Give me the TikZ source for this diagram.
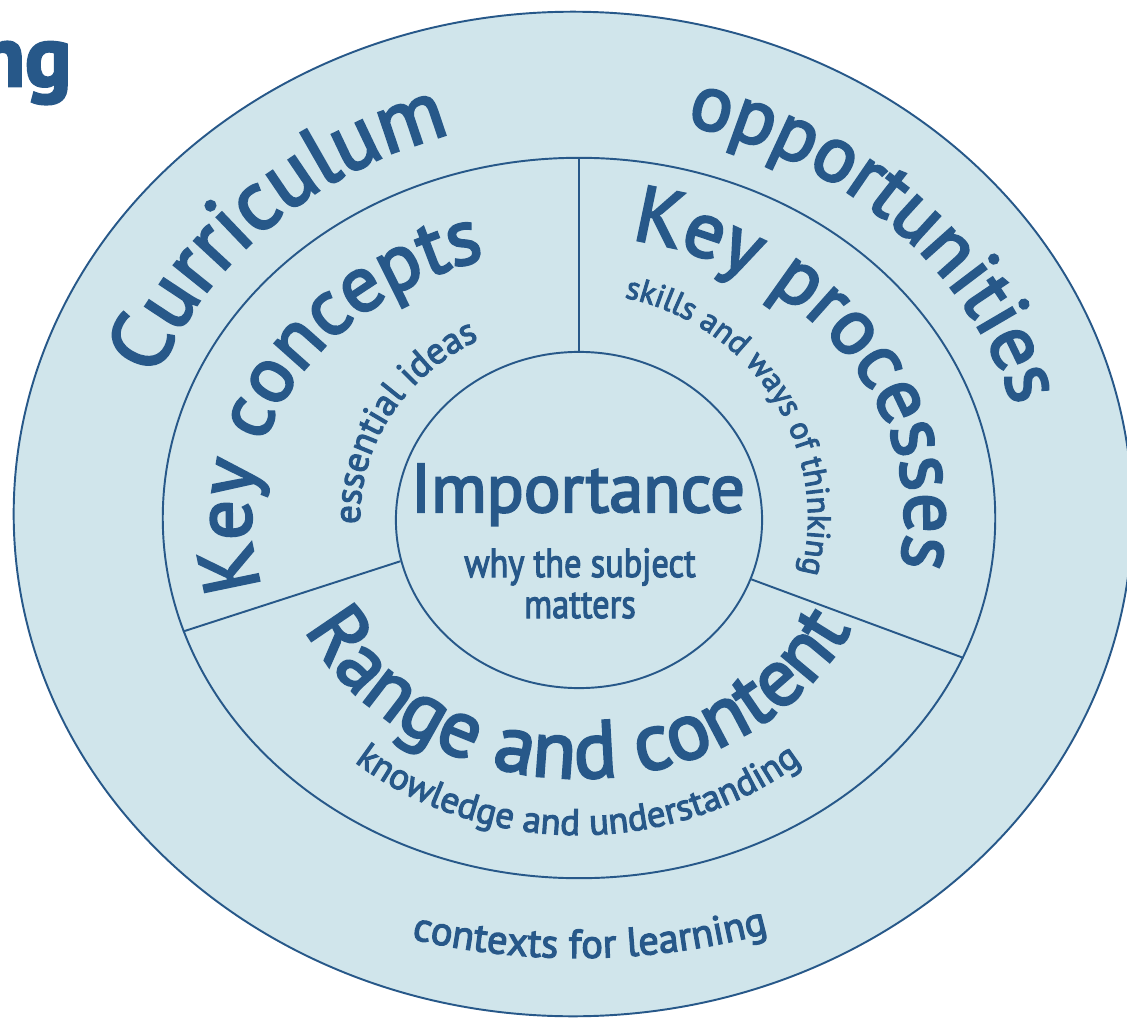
\documentclass[tikz,border=0pt]{standalone}
\usepackage{fontspec}
\setmainfont{PT Sans}[FakeBold=3]
\usetikzlibrary{shapes.geometric,decorations.text,calc}
\definecolor{ringfill}{RGB}{208,229,235}
\definecolor{ringline}{RGB}{39,88,137}

\begin{document}
\begin{tikzpicture}[x=0.01cm,y=0.01cm,
  ring/.style={ellipse,draw=ringline,fill=ringfill,line width=0.55pt,inner sep=0pt},
  divider/.style={draw=ringline,line width=0.55pt},
  arctext/.style={decorate,decoration={text along path,text align=center,text={#1}}}]
\useasboundingbox (0,0) rectangle (1127,1017);
\coordinate (O) at (578,499);

\node[ring,minimum width=11.18cm,minimum height=10.04cm] (outer) at (573,503) {};
\node[ring,minimum width=8.32cm,minimum height=7.2cm] (mid) at (579,499) {};
\node[ring,minimum width=3.66cm,minimum height=3.36cm] (inner) at (579,497) {};

\path[divider] (inner.90) -- (mid.90);
\path[divider] (inner.193.5) -- (mid.196.6);
\path[divider] (inner.341.8) -- (mid.340);

% outer ring
\path[arctext={|\fontsize{24}{28}\selectfont\color{ringline}|Curriculum}] ([shift={(180:450 and 400)}]O) arc[start angle=180,end angle=88,x radius=450,y radius=400];
\path[arctext={|\fontsize{22.5}{27}\selectfont\color{ringline}|opportunities}] ([shift={(95:453 and 405)}]O) arc[start angle=95,end angle=-5,x radius=453,y radius=405];
\path[arctext={|\fontsize{11.5}{13}\selectfont\color{ringline}|contexts for learning}] ([shift={(240.3:570 and 440)}]O) arc[start angle=240.3,end angle=302.3,x radius=570,y radius=440];

% middle ring
\path[arctext={|\fontsize{22.5}{26}\selectfont\color{ringline}|Key concepts}] ([shift={(207:327 and 270)}]O) arc[start angle=207,end angle=96,x radius=327,y radius=270];
\path[arctext={|\fontsize{10.5}{12}\selectfont\color{ringline}|essential ideas}] ([shift={(200:218 and 200)}]O) arc[start angle=200,end angle=100,x radius=218,y radius=200];
\path[arctext={|\fontsize{22.5}{26}\selectfont\color{ringline}|Key processes}] ([shift={(86:327 and 282)}]O) arc[start angle=86,end angle=-16,x radius=327,y radius=282];
\path[arctext={|\fontsize{9.2}{11}\selectfont\color{ringline}|skills and ways of thinking}] ([shift={(84:230 and 225)}]O) arc[start angle=84,end angle=-20,x radius=230,y radius=225];
\path[arctext={|\fontsize{23}{27}\selectfont\color{ringline}|Range and content}] ([shift={(195:302 and 260)}]O) arc[start angle=195,end angle=345,x radius=302,y radius=260];
\path[arctext={|\fontsize{10.5}{12}\selectfont\color{ringline}|knowledge and understanding}] ([shift={(215:350 and 317)}]O) arc[start angle=215,end angle=325,x radius=350,y radius=317];

% centre
\node[anchor=base,text=ringline,font=\fontsize{19.5}{22}\selectfont] (imp) at (578,505) {Importance};
\node[anchor=base,text=ringline,xscale=0.85,font=\fontsize{11.5}{13}\selectfont] (why) at (580,440) {why the subject};
\node[anchor=base,text=ringline,xscale=0.85,font=\fontsize{11.5}{13}\selectfont] (mat) at (580,399) {matters};

\node[anchor=base east,inner sep=0pt,text=ringline,font=\fontsize{24.5}{28}\selectfont\bfseries] (ng) at (72,931) {ng};
\end{tikzpicture}
\end{document}
